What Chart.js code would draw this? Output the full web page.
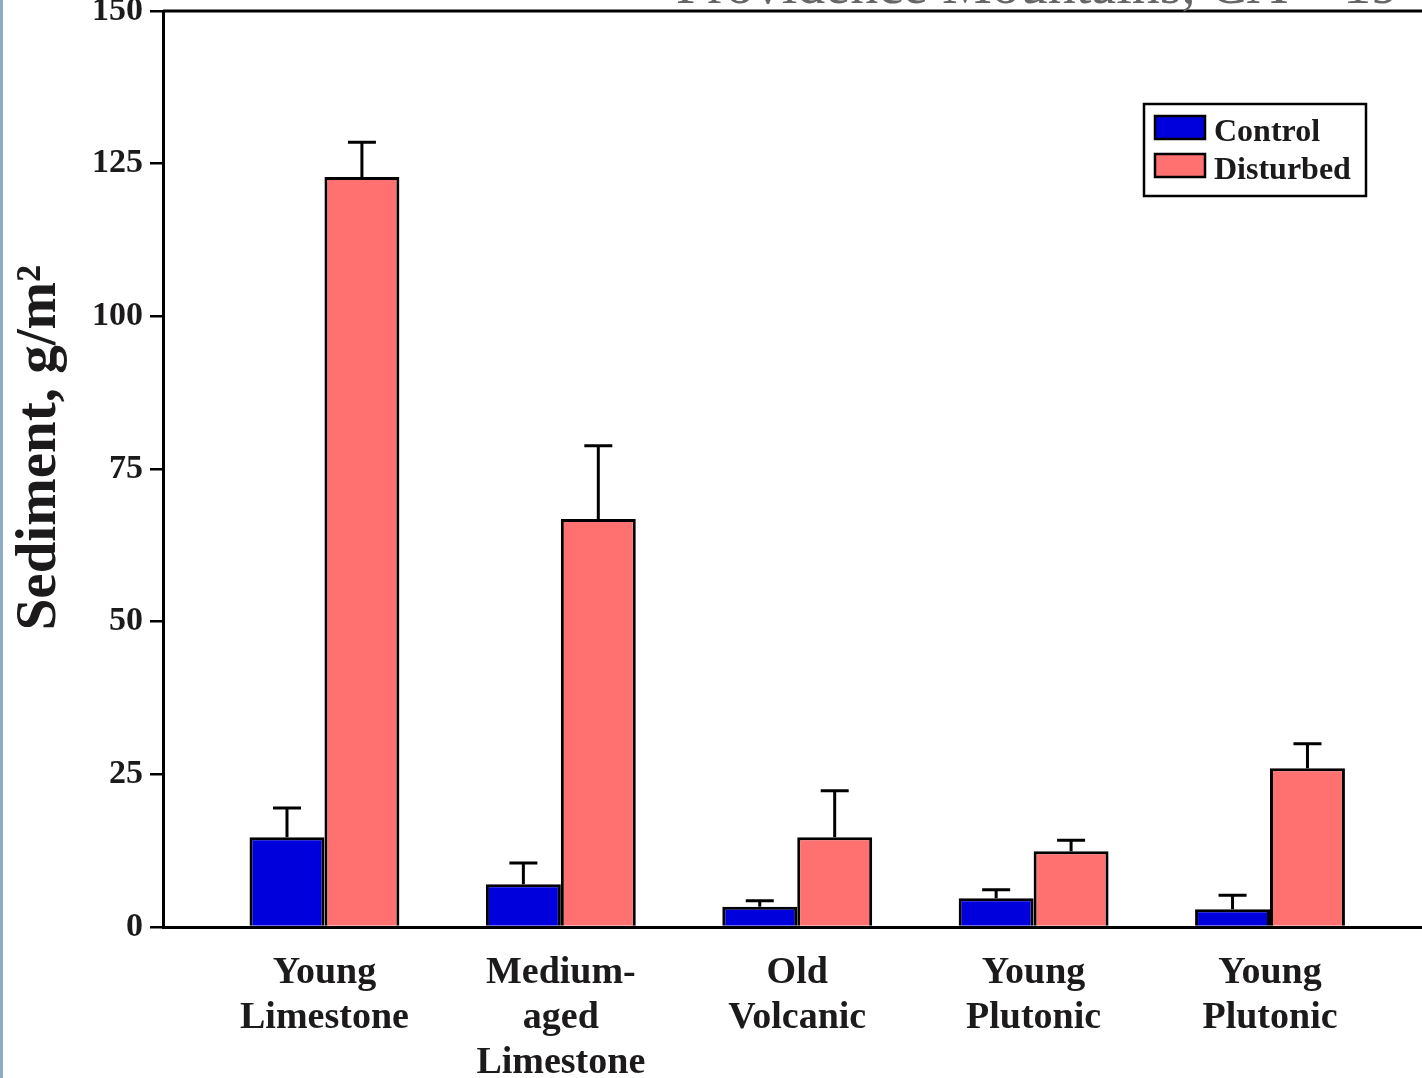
<!DOCTYPE html>
<html>
<head>
<meta charset="utf-8">
<script src="https://cdn.jsdelivr.net/npm/chart.js@4.4.1/dist/chart.umd.min.js"></script>
<style>
  html, body { margin: 0; padding: 0; background: #fff; overflow: hidden; }
  #wrap { position: relative; width: 1422px; height: 1078px; }
  #stripe { position: absolute; left: 0; top: 0; width: 3px; height: 1078px; background: #8eaacd; }
</style>
</head>
<body>
<div id="wrap">
  <canvas id="sedChart" width="1422" height="1078"></canvas>
  <div id="stripe"></div>
</div>
<script>
// values
const sites = [
  ['Young', 'Limestone'],
  ['Medium-', 'aged', 'Limestone'],
  ['Old', 'Volcanic'],
  ['Young', 'Plutonic'],
  ['Young', 'Plutonic']
];
const controlMean = [14.7, 7.0, 3.3, 4.7, 2.9];
const controlErr = [4.8, 3.5, 1.0, 1.4, 2.3];
const disturbedMean = [122.8, 66.8, 14.7, 12.4, 26.0];
const disturbedErr = [5.7, 12.0, 7.6, 1.8, 4.0];
const yTicks = [0, 25, 50, 75, 100, 125, 150];

const serif = '"Liberation Serif", "Times New Roman", serif';

const toXY = (arr) => arr.map((v, i) => ({ x: i, y: v }));

// upper error bars with caps
const errorBars = {
  id: 'errorBars',
  afterDatasetsDraw(chart) {
    const ctx = chart.ctx;
    const yScale = chart.scales.y;
    ctx.save();
    ctx.strokeStyle = '#000';
    ctx.lineWidth = 3;
    chart.data.datasets.forEach((ds, di) => {
      const meta = chart.getDatasetMeta(di);
      meta.data.forEach((bar, i) => {
        const top = yScale.getPixelForValue(ds.data[i].y + ds.errors[i]);
        ctx.beginPath();
        ctx.moveTo(bar.x, bar.y);
        ctx.lineTo(bar.x, top);
        ctx.moveTo(bar.x - 14, top);
        ctx.lineTo(bar.x + 14, top);
        ctx.stroke();
      });
    });
    ctx.restore();
  }
};

// boxed legend, top frame line and the clipped heading
const decorations = {
  id: 'decorations',
  afterDraw(chart) {
    const ctx = chart.ctx;
    const area = chart.chartArea;
    ctx.save();
    // top frame
    ctx.strokeStyle = '#000';
    ctx.lineWidth = 3;
    ctx.beginPath();
    ctx.moveTo(area.left, area.top);
    ctx.lineTo(area.right, area.top);
    ctx.stroke();

    // heading, mostly cut off by the top edge
    ctx.fillStyle = '#666';
    ctx.font = '56px ' + serif;
    ctx.textBaseline = 'alphabetic';
    ctx.textAlign = 'left';
    ctx.fillText('Providence Mountains, CA \u2013 19', 676, 3);

    // legend
    ctx.fillStyle = '#fff';
    ctx.fillRect(1144, 104, 222, 92);
    ctx.lineWidth = 2.5;
    ctx.strokeRect(1144, 104, 222, 92);
    ctx.font = 'bold 32px ' + serif;
    ctx.textBaseline = 'middle';
    chart.data.datasets.forEach((ds, i) => {
      const y = 116 + i * 38;
      ctx.fillStyle = ds.backgroundColor;
      ctx.fillRect(1155, y, 50, 23);
      ctx.lineWidth = 2.5;
      ctx.strokeStyle = '#000';
      ctx.strokeRect(1155, y, 50, 23);
      ctx.fillStyle = '#1c1a1a';
      ctx.fillText(ds.label, 1214, y + 17);
    });
    ctx.restore();
  }
};

new Chart(document.getElementById('sedChart'), {
  type: 'bar',
  data: {
    datasets: [
      {
        label: 'Control',
        data: toXY(controlMean),
        errors: controlErr,
        backgroundColor: '#0000dc',
        borderColor: '#000',
        borderWidth: 3
      },
      {
        label: 'Disturbed',
        data: toXY(disturbedMean),
        errors: disturbedErr,
        backgroundColor: '#ff7171',
        borderColor: '#000',
        borderWidth: 3
      }
    ]
  },
  options: {
    responsive: false,
    animation: false,
    categoryPercentage: 0.634,
    barPercentage: 1.0,
    layout: { padding: { top: 11, right: 0, bottom: 0, left: 0 } },
    plugins: {
      legend: { display: false },
      tooltip: { enabled: false }
    },
    scales: {
      x: {
        type: 'linear',
        offset: false,
        min: -0.683,
        max: 4.643,
        grid: { display: false },
        border: { display: true, color: '#000', width: 3 },
        afterBuildTicks: (scale) => { scale.ticks = sites.map((_, i) => ({ value: i })); },
        afterFit: (scale) => { scale.height = 151; scale.paddingLeft = 0; scale.paddingRight = 0; },
        ticks: {
          autoSkip: false,
          maxRotation: 0,
          padding: 16,
          color: '#1c1a1a',
          font: { family: serif, size: 38, weight: 'bold', lineHeight: 1.18 },
          callback: (v) => sites[v]
        }
      },
      y: {
        min: 0,
        max: 150,
        afterBuildTicks: (scale) => { scale.ticks = yTicks.map((v) => ({ value: v })); },
        afterFit: (scale) => { scale.width = 163; scale.paddingTop = 0; scale.paddingBottom = 0; },
        grid: {
          drawOnChartArea: false,
          drawTicks: true,
          tickLength: 13,
          tickColor: '#000',
          lineWidth: 2.5
        },
        border: { display: true, color: '#000', width: 3 },
        ticks: {
          padding: 7,
          color: '#1c1a1a',
          font: { family: serif, size: 34, weight: 'bold' }
        },
        title: {
          display: true,
          text: '   Sediment, g/m\u00b2',
          color: '#1c1a1a',
          padding: { top: 6, bottom: 0 },
          font: { family: serif, size: 57, weight: 'bold' }
        }
      }
    }
  },
  plugins: [errorBars, decorations]
});
</script>
</body>
</html>
